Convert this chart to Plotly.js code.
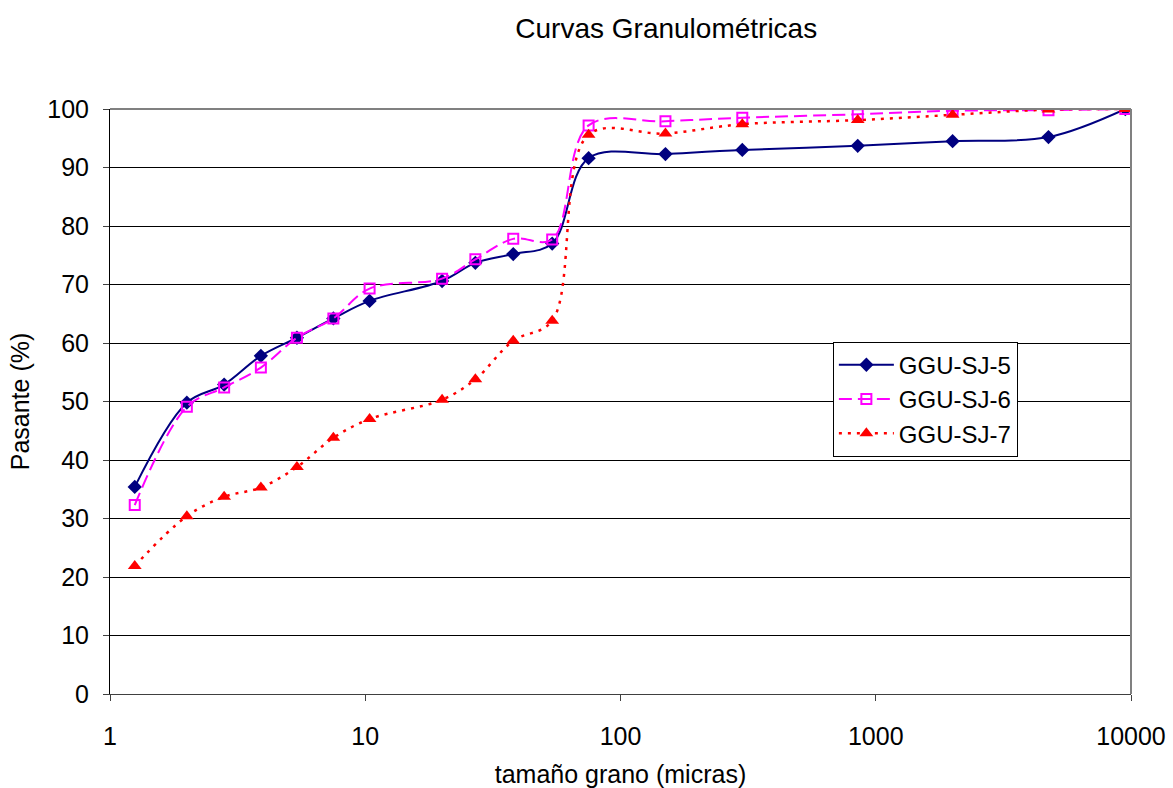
<!DOCTYPE html>
<html>
<head>
<meta charset="utf-8">
<script src="https://cdn.plot.ly/plotly-3.0.1.min.js"></script>
<style>html,body{margin:0;padding:0;background:#fff;}#chart{width:1173px;height:788px;}</style>
</head>
<body>
<div id="chart"></div>
<script>
// Tamaño de grano (micras)
const sizes = [1.25, 2, 2.8, 3.9, 5.4, 7.5, 10.4, 20, 27, 38, 54, 75, 150, 300, 850, 2000, 4750, 9500];
// Pasante (%)
const sj5 = [35.4, 49.8, 52.9, 57.8, 60.9, 64.2, 67.2, 70.6, 73.7, 75.2, 77.0, 91.6, 92.3, 93.0, 93.7, 94.5, 95.2, 100];
const sj6 = [32.3, 49.1, 52.4, 55.8, 60.9, 64.2, 69.3, 71.0, 74.3, 77.8, 77.7, 97.2, 97.9, 98.5, 99.1, 99.7, 99.8, 100];
const sj7 = [21.9, 30.4, 33.7, 35.3, 38.8, 43.8, 47.0, 50.3, 53.8, 60.4, 63.8, 95.6, 95.8, 97.4, 98.1, 99.0, 99.9, 100];
const seriesNames = ["GGU-SJ-5", "GGU-SJ-6", "GGU-SJ-7"];
const xTicks = [1, 10, 100, 1000, 10000];
const xTickText = ["1", "10", "100", "1000", "10000"];

const FONT = "Liberation Sans, Arial, sans-serif";

const traces = [
  {x: sizes, y: sj5, name: seriesNames[0], type: "scatter", mode: "lines+markers",
   line: {color: "#000080", width: 2, shape: "spline", smoothing: 1},
   marker: {symbol: "diamond", size: 11, color: "#000080"}},
  {x: sizes, y: sj6, name: seriesNames[1], type: "scatter", mode: "lines+markers",
   line: {color: "#FF00FF", width: 2, dash: "13px,6px", shape: "spline", smoothing: 1},
   marker: {symbol: "square-open", size: 10, color: "#FF00FF", line: {width: 2, color: "#FF00FF"}}},
  {x: sizes, y: sj7, name: seriesNames[2], type: "scatter", mode: "lines+markers",
   line: {color: "#FF0000", width: 2.5, dash: "3px,6px", shape: "spline", smoothing: 1},
   marker: {symbol: "triangle-up", size: 12, color: "#FF0000"}}
];

const layout = {
  width: 1173, height: 788,
  paper_bgcolor: "#fff", plot_bgcolor: "#fff",
  margin: {l: 110, r: 42, t: 109, b: 94, pad: 0},
  font: {family: FONT, size: 25, color: "#000"},
  title: {text: "Curvas Granulométricas", font: {family: FONT, size: 28, color: "#000"},
          x: 0.568, xref: "container", xanchor: "center", y: 0.964, yref: "container", yanchor: "middle"},
  showlegend: true,
  legend: {x: 0.708, y: 0.504, xanchor: "left", yanchor: "middle",
           bordercolor: "#000", borderwidth: 1, bgcolor: "#fff",
           font: {family: FONT, size: 24, color: "#000"}, itemwidth: 55, tracegroupgap: 0},
  xaxis: {type: "log", range: [0, 4], tickvals: xTicks, ticktext: xTickText,
          showgrid: false, zeroline: false, showline: true, linecolor: "#404040", linewidth: 1,
          ticks: "outside", ticklen: 6, tickcolor: "#404040", ticklabelstandoff: 14,
          tickfont: {family: FONT, size: 25, color: "#000"},
          title: {text: "tamaño grano (micras)", font: {family: FONT, size: 25, color: "#000"}, standoff: 24}},
  yaxis: {range: [0, 100], dtick: 10, tick0: 0,
          showgrid: true, gridcolor: "#000", gridwidth: 1, zeroline: false,
          showline: true, linecolor: "#000", linewidth: 1,
          ticks: "outside", ticklen: 6, tickcolor: "#404040", ticklabelstandoff: 9,
          tickfont: {family: FONT, size: 25, color: "#000"},
          title: {text: "Pasante (%)", font: {family: FONT, size: 25, color: "#000"}, standoff: 10}},
  shapes: [
    {type: "line", xref: "paper", yref: "paper", x0: 0, x1: 1, y0: 1, y1: 1, line: {color: "#808080", width: 2}},
    {type: "line", xref: "paper", yref: "paper", x0: 1, x1: 1, y0: 0, y1: 1, line: {color: "#808080", width: 2}}
  ]
};

Plotly.newPlot("chart", traces, layout, {displayModeBar: false, staticPlot: true});
</script>
</body>
</html>
